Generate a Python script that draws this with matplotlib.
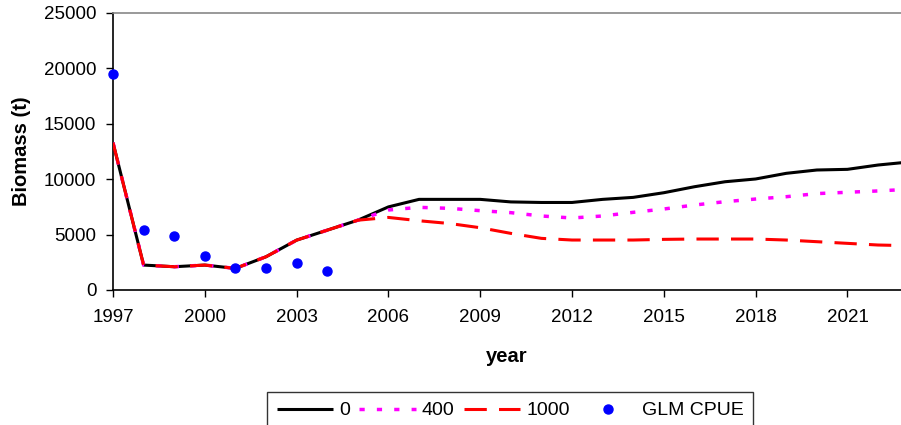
import matplotlib
matplotlib.use("Agg")
import matplotlib.pyplot as plt

years = list(range(1997, 2024))
catch0 = [13300, 2250, 2100, 2250, 1950, 3000, 4500, 5400, 6300, 7500, 8180, 8180,
          8180, 7950, 7900, 7900, 8180, 8360, 8780, 9320, 9770, 10020, 10530, 10830,
          10890, 11280, 11550]
catch400 = [13300, 2250, 2100, 2250, 1950, 3000, 4500, 5400, 6300, 7220, 7460, 7370,
            7160, 6980, 6680, 6500, 6680, 7010, 7310, 7670, 7970, 8210, 8420, 8700,
            8820, 8940, 9090]
catch1000 = [13300, 2250, 2100, 2250, 1950, 3000, 4500, 5400, 6300, 6550, 6250, 6000,
             5620, 5110, 4660, 4510, 4510, 4510, 4570, 4600, 4600, 4600, 4510, 4360,
             4210, 4060, 4000]
cpue_years = [1997, 1998, 1999, 2000, 2001, 2002, 2003, 2004]
cpue = [19500, 5400, 4870, 3070, 1990, 1990, 2440, 1700]

xticks = list(range(1997, 2022, 3))
yticks = [0, 5000, 10000, 15000, 20000, 25000]

plt.rcParams['font.family'] = ['Liberation Sans', 'DejaVu Sans']

fig = plt.figure(figsize=(9.01, 4.25), dpi=100)
ax = fig.add_axes([113/901, 1-290/425, 1-113/901, (290-13)/425])

ax.plot(years, catch0, color='black', lw=2.2, solid_capstyle='butt', label='0', zorder=3)
ax.plot(years, catch400, color='#FF00FF', lw=2.5, linestyle=(0, (1.5, 3.5)), label='400', zorder=4)
ax.plot(years, catch1000, color='#FF0000', lw=2.2, linestyle=(0, (7.3, 4)), label='1000', zorder=5)
ax.plot(cpue_years, cpue, linestyle='none', marker='o', markersize=6.5, color='#0000FF',
        label='GLM CPUE', zorder=6, clip_on=False)

ax.set_xlim(1997, 2022.75)
ax.set_ylim(0, 25000)
ax.set_xticks(xticks)
ax.set_xticklabels([str(x) for x in xticks])
ax.set_yticks(yticks)
ax.set_yticklabels([str(y) for y in yticks])
ax.tick_params(axis='both', direction='out', length=5, width=1, labelsize=13.5, color='black')
ax.tick_params(axis='y', pad=7)
ax.tick_params(axis='x', pad=9)

for s in ['left', 'bottom']:
    ax.spines[s].set_color('black')
    ax.spines[s].set_linewidth(1.2)
ax.spines['top'].set_color('#888888')
ax.spines['top'].set_linewidth(1.2)
ax.spines['right'].set_visible(False)

ax.set_ylabel('Biomass (t)', fontsize=14.5, fontweight='bold', labelpad=9)
ax.set_xlabel('year', fontsize=14.5, fontweight='bold', labelpad=15)

leg = fig.legend(loc='upper center', bbox_to_anchor=(510/901, 1-392/425), ncol=4,
                 fontsize=14, frameon=True, fancybox=False, edgecolor='black',
                 handlelength=2.9, handletextpad=0.3, columnspacing=0.5,
                 borderpad=0.5, borderaxespad=0)
leg.get_frame().set_linewidth(1.0)

fig.savefig('out.png', dpi=100)
